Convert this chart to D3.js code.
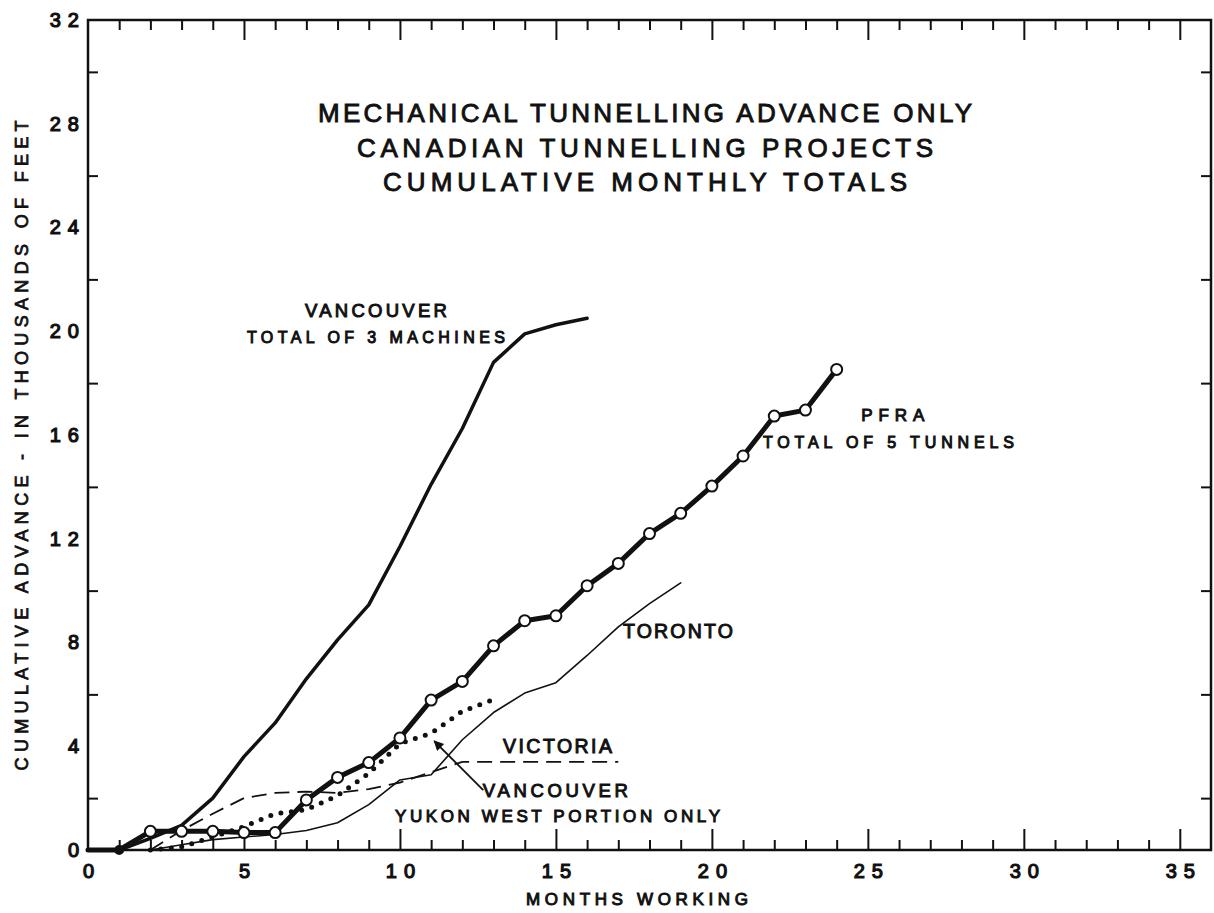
<!DOCTYPE html>
<html>
<head>
<meta charset="utf-8">
<script src="https://cdn.jsdelivr.net/npm/d3@7"></script>
<style>
  body { margin: 0; background: #fff; }
  svg text { font-family: "Liberation Sans", Arial, sans-serif; fill: #111; stroke: #111; stroke-width: 0.8px; }
</style>
</head>
<body>
<svg id="chart" width="1214" height="913"></svg>
<script>
// values: months working / thousands of feet
const vancouverMonths = [0, 1, 2, 3, 4, 5, 6, 7, 8, 9, 10, 11, 12, 13, 14, 15, 16];
const vancouverValues = [0, 0, 0.45, 0.95, 2.0, 3.6, 4.9, 6.6, 8.1, 9.45, 11.7, 14.1, 16.25, 18.8, 19.9, 20.25, 20.5];

const pfraMonths = [0, 1, 2, 3, 4, 5, 6, 7, 8, 9, 10, 11, 12, 13, 14, 15, 16, 17, 18, 19, 20, 21, 22, 23, 24];
const pfraValues = [0, 0, 0.72, 0.72, 0.72, 0.67, 0.67, 1.93, 2.8, 3.37, 4.32, 5.78, 6.5, 7.87, 8.84, 9.03, 10.19, 11.05, 12.2, 12.98, 14.03, 15.19, 16.73, 16.96, 18.53];

const torontoMonths = [2, 3, 4, 5, 6, 7, 8, 9, 10, 11, 12, 13, 14, 15, 16, 17, 18, 19];
const torontoValues = [0, 0.2, 0.4, 0.5, 0.6, 0.75, 1.05, 1.75, 2.7, 2.9, 4.25, 5.3, 6.05, 6.45, 7.5, 8.6, 9.5, 10.3];

const victoriaMonths = [2, 3, 4, 5, 6, 7, 8, 9, 10, 11, 12, 17];
const victoriaValues = [0, 0.75, 1.4, 2.0, 2.2, 2.25, 2.2, 2.35, 2.6, 3.0, 3.4, 3.4];

const yukonMonths = [2, 3, 4, 5, 6, 7, 8, 9, 10, 11, 12, 13];
const yukonValues = [0, 0.12, 0.5, 0.9, 1.4, 1.55, 2.1, 2.95, 4.1, 4.5, 5.35, 5.8];

const xMajorTicks = [0, 5, 10, 15, 20, 25, 30, 35];
const xMinorTicks = [1, 2, 3, 4, 6, 7, 8, 9, 11, 12, 13, 14, 16, 17, 18, 19, 21, 22, 23, 24, 26, 27, 28, 29, 31, 32, 33, 34];
const yLabelTicks = [0, 4, 8, 12, 16, 20, 24, 28, 32];
const yMinorTicks = [2, 6, 10, 14, 18, 22, 26, 30];

const titleLines = ["MECHANICAL TUNNELLING ADVANCE ONLY", "CANADIAN TUNNELLING PROJECTS", "CUMULATIVE MONTHLY TOTALS"];

// curve labels: text, month, value (baseline), width in px, font size
const curveLabels = [
  ["VANCOUVER", 9.23, 20.55, 142, 18.5],
  ["TOTAL OF 3 MACHINES", 9.23, 19.55, 258, 16],
  ["PFRA", 25.8, 16.54, 63, 17],
  ["TOTAL OF 5 TUNNELS", 25.66, 15.5, 251, 16],
  ["TORONTO", 18.91, 8.17, 110, 19.5],
  ["VICTORIA", 15.05, 3.74, 109, 19.5],
  ["VANCOUVER", 14.98, 2.04, 145, 18.5],
  ["YUKON WEST PORTION ONLY", 15.05, 1.08, 325, 17]
];
const arrowFrom = [12.67, 2.31];
const arrowTo = [11.1, 4.2];

const svg = d3.select("#chart");
const mLeft = 88, mRight = 1211, mTop = 20, mBottom = 850;

const x = d3.scaleLinear().domain([0, 36]).range([mLeft, mRight]);
const y = d3.scaleLinear().domain([0, 32]).range([mBottom, mTop]);

// frame
svg.append("rect")
  .attr("x", mLeft).attr("y", mTop)
  .attr("width", mRight - mLeft).attr("height", mBottom - mTop)
  .attr("fill", "none").attr("stroke", "#111").attr("stroke-width", 2.5);

function tickAxis(axis, tr) {
  const g = svg.append("g").attr("transform", tr).call(axis);
  g.select(".domain").remove();
  g.selectAll(".tick line").attr("stroke", "#111").attr("stroke-width", 2);
  return g;
}

// bottom
const xLab = tickAxis(d3.axisBottom(x).tickValues(xMajorTicks).tickSize(-21).tickPadding(14)
  .tickFormat(d => d), `translate(0,${mBottom})`);
xLab.selectAll(".tick text")
  .attr("font-size", 20).attr("letter-spacing", 7).attr("dx", 3.5)
  .style("font-family", "Liberation Sans, Arial, sans-serif").attr("fill", "#111")
  .style("stroke-width", "1.2px");
xLab.selectAll(".tick").filter(d => d === 0).select("line").remove();
tickAxis(d3.axisBottom(x).tickValues(xMinorTicks).tickSize(-10).tickFormat(""), `translate(0,${mBottom})`);

// top
tickAxis(d3.axisTop(x).tickValues(xMajorTicks.filter(d => d > 0)).tickSize(-20).tickFormat(""), `translate(0,${mTop})`);
tickAxis(d3.axisTop(x).tickValues(xMinorTicks).tickSize(-10).tickFormat(""), `translate(0,${mTop})`);

// left
const yLab = tickAxis(d3.axisLeft(y).tickValues(yLabelTicks).tickSize(0).tickPadding(2)
  .tickFormat(d => d), `translate(${mLeft},0)`);
yLab.selectAll(".tick text")
  .attr("font-size", 20).attr("letter-spacing", 7)
  .style("font-family", "Liberation Sans, Arial, sans-serif").attr("fill", "#111")
  .style("stroke-width", "1.2px");
tickAxis(d3.axisLeft(y).tickValues(yMinorTicks).tickSize(-10).tickFormat(""), `translate(${mLeft},0)`);

// right
tickAxis(d3.axisRight(y).tickValues(yMinorTicks).tickSize(-10).tickFormat(""), `translate(${mRight},0)`);

// axis titles
svg.append("text")
  .attr("x", x(17.6)).attr("y", 905)
  .attr("text-anchor", "middle").attr("font-size", 17)
  .style("stroke-width", "1px")
  .attr("textLength", 222).attr("lengthAdjust", "spacing")
  .text("MONTHS WORKING");

svg.append("text")
  .attr("transform", `translate(28,${y(15.6)}) rotate(-90)`)
  .attr("text-anchor", "middle").attr("font-size", 18)
  .attr("textLength", 650).attr("lengthAdjust", "spacing")
  .text("CUMULATIVE ADVANCE - IN THOUSANDS OF FEET");

// title
const titleWidths = [654, 576, 524];
svg.selectAll(".title")
  .data(titleLines)
  .join("text")
  .attr("class", "title")
  .attr("x", 645)
  .attr("y", (d, i) => 122 + i * 34.5)
  .attr("text-anchor", "middle")
  .attr("font-size", 26)
  .style("stroke-width", "0.9px")
  .attr("textLength", (d, i) => titleWidths[i])
  .attr("lengthAdjust", "spacing")
  .text(d => d);

const line = d3.line().x(d => x(d[0])).y(d => y(d[1]));
const zip = (ms, vs) => ms.map((m, i) => [m, vs[i]]);

const plot = svg.append("g").attr("fill", "none").attr("stroke", "#111")
  .attr("stroke-linejoin", "round").attr("stroke-linecap", "round");

// Toronto - thin solid
plot.append("path").attr("d", line(zip(torontoMonths, torontoValues)))
  .attr("stroke-width", 1.6);

// Victoria - dashed
plot.append("path").attr("d", line(zip(victoriaMonths, victoriaValues)))
  .attr("stroke-width", 1.8).attr("stroke-linecap", "butt")
  .attr("stroke-dasharray", "15 8");

// Vancouver Yukon west - heavy dots
plot.append("path").attr("d", line(zip(yukonMonths, yukonValues)))
  .attr("stroke-width", 5).attr("stroke-dasharray", "0 10.5");

// Vancouver 3 machines - heavy solid
plot.append("path").attr("d", line(zip(vancouverMonths, vancouverValues)))
  .attr("stroke-width", 3.5);

// PFRA - heavy line with open circles
const pfra = zip(pfraMonths, pfraValues);
plot.append("path").attr("d", line(pfra)).attr("stroke-width", 5);
svg.append("g").selectAll("circle")
  .data(pfra.filter(d => d[0] >= 1))
  .join("circle")
  .attr("cx", d => x(d[0])).attr("cy", d => y(d[1]))
  .attr("r", d => d[0] === 1 ? 4 : 5.5)
  .attr("fill", d => d[0] === 1 ? "#111" : "#fff")
  .attr("stroke", "#111").attr("stroke-width", 2);

// curve labels
svg.append("g").selectAll("text")
  .data(curveLabels)
  .join("text")
  .attr("x", d => x(d[1])).attr("y", d => y(d[2]))
  .attr("text-anchor", "middle")
  .attr("font-size", d => d[4])
  .style("stroke-width", "1px")
  .attr("textLength", d => d[3]).attr("lengthAdjust", "spacing")
  .text(d => d[0]);

// arrow to the Yukon curve
svg.append("defs").append("marker")
  .attr("id", "head").attr("viewBox", "0 0 10 10")
  .attr("refX", 9).attr("refY", 5)
  .attr("markerWidth", 14).attr("markerHeight", 10)
  .attr("markerUnits", "userSpaceOnUse")
  .attr("orient", "auto")
  .append("path").attr("d", "M0,0L10,5L0,10Z").attr("fill", "#111");

svg.append("line")
  .attr("x1", x(arrowFrom[0])).attr("y1", y(arrowFrom[1]))
  .attr("x2", x(arrowTo[0])).attr("y2", y(arrowTo[1]))
  .attr("stroke", "#111").attr("stroke-width", 1.8)
  .attr("marker-end", "url(#head)");
</script>
</body>
</html>
